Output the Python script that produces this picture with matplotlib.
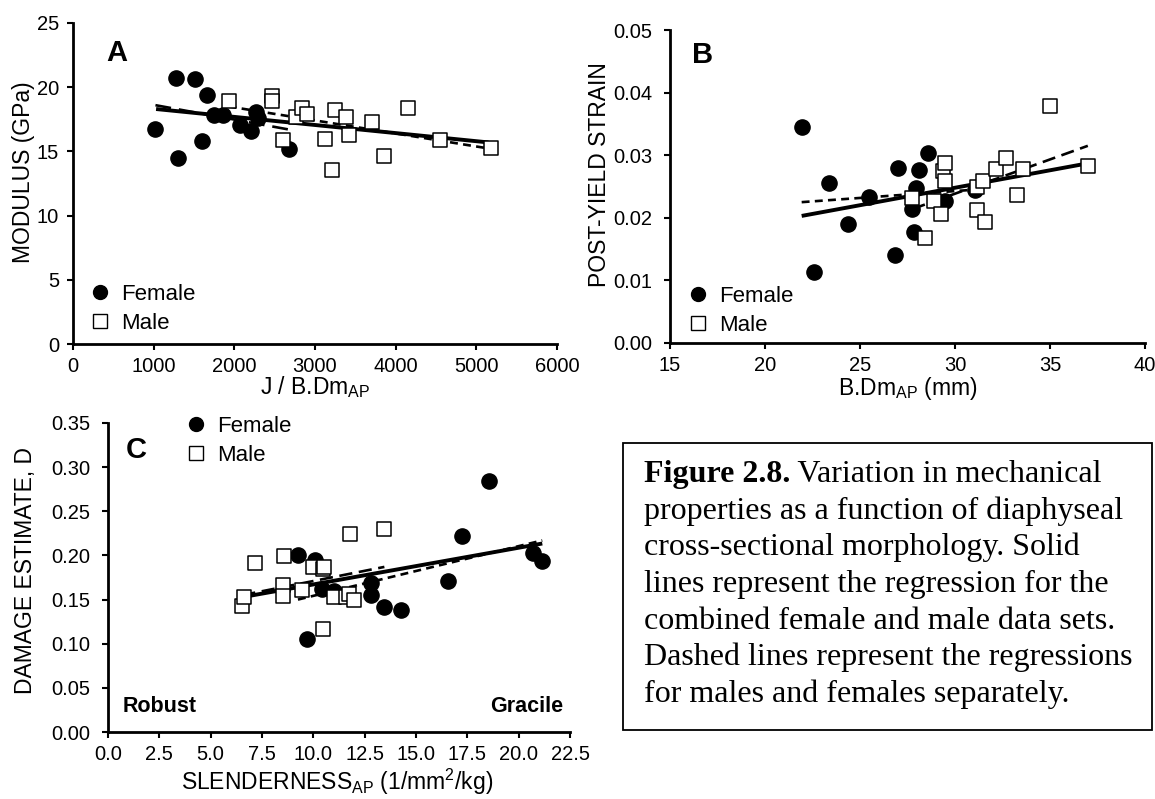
import matplotlib
matplotlib.use("Agg")
import matplotlib.pyplot as plt
from matplotlib.lines import Line2D
from matplotlib.patches import Rectangle
from matplotlib.ticker import FormatStrFormatter

plt.rcParams['font.family'] = ['Liberation Sans', 'DejaVu Sans']
plt.rcParams['mathtext.default'] = 'regular'

# ---- panel A: modulus vs J / B.Dm_AP
a_female_x = [1022, 1275, 1510, 1657, 1597, 1298, 1750, 1860, 2072, 2210, 2270, 2288, 2680]
a_female_y = [16.77, 20.74, 20.64, 19.42, 15.78, 14.49, 17.81, 17.86, 17.08, 16.56, 18.04, 17.6, 15.19]
a_male_x = [1929, 2463, 2463, 2601, 2762, 2840, 2901, 3122, 3209, 3250, 3384, 3416, 3702, 3854, 4148, 4553, 5180]
a_male_y = [18.9, 19.29, 18.95, 15.86, 17.68, 18.35, 17.91, 15.97, 13.55, 18.25, 17.68, 16.3, 17.32, 14.67, 18.35, 15.86, 15.29]
a_fit_all_x, a_fit_all_y = [1030, 5150], [18.3, 15.7]
a_fit_f_x, a_fit_f_y = [1022, 2680], [18.6, 16.7]
a_fit_m_x, a_fit_m_y = [1929, 5180], [18.5, 15.2]

# ---- panel B: post-yield strain vs B.Dm_AP
b_female_x = [21.93, 22.58, 23.35, 24.36, 25.49, 26.83, 26.99, 27.76, 27.86, 27.96, 28.09, 28.56, 29.45, 31.06]
b_female_y = [0.0345, 0.0113, 0.0255, 0.0190, 0.0233, 0.0140, 0.0279, 0.0214, 0.0177, 0.0247, 0.0277, 0.0303, 0.0227, 0.0244]
b_male_x = [27.76, 28.44, 28.87, 29.26, 29.37, 29.45, 29.45, 31.16, 31.16, 31.49, 31.57, 32.17, 32.68, 33.28, 33.59, 34.99, 36.99]
b_male_y = [0.0232, 0.0167, 0.0227, 0.0206, 0.0274, 0.0288, 0.0258, 0.0213, 0.0250, 0.0258, 0.0194, 0.0278, 0.0295, 0.0237, 0.0278, 0.0378, 0.0282]
b_fit_all_x, b_fit_all_y = [21.93, 36.99], [0.0203, 0.0287]
b_fit_f_x, b_fit_f_y = [21.93, 31.06], [0.0225, 0.0245]
b_fit_m_x, b_fit_m_y = [27.76, 36.99], [0.0214, 0.0315]

# ---- panel C: damage estimate vs slenderness
c_female_x = [9.25, 10.08, 9.67, 10.43, 11.02, 12.83, 12.83, 13.43, 14.28, 16.54, 17.26, 18.56, 20.69, 21.15]
c_female_y = [0.2005, 0.1949, 0.1048, 0.162, 0.1593, 0.1688, 0.1555, 0.1411, 0.1381, 0.171, 0.2225, 0.2845, 0.2028, 0.1937]
c_male_x = [6.54, 6.63, 7.14, 8.53, 8.53, 8.59, 9.45, 9.99, 10.45, 10.52, 10.45, 11.02, 11.57, 11.75, 11.96, 11.80, 13.46]
c_male_y = [0.1423, 0.1525, 0.1918, 0.1665, 0.1544, 0.199, 0.1612, 0.1865, 0.1846, 0.1873, 0.1162, 0.1532, 0.1525, 0.1563, 0.1498, 0.2244, 0.2297]
c_fit_all_x, c_fit_all_y = [6.6, 21.15], [0.153, 0.2135]
c_fit_f_x, c_fit_f_y = [9.25, 21.15], [0.150, 0.217]
c_fit_m_x, c_fit_m_y = [6.54, 13.46], [0.155, 0.187]

caption_lines = [
    "properties as a function of diaphyseal",
    "cross-sectional morphology. Solid",
    "lines represent the regression for the",
    "combined female and male data sets.",
    "Dashed lines represent the regressions",
    "for males and females separately.",
]

W, H = 1155, 799
fig = plt.figure(figsize=(W / 100, H / 100), dpi=100)

TICK_FS = 14.5
LABEL_FS = 16.5
LEG_FS = 16


def axes_px(left, right, top, bottom):
    return fig.add_axes([left / W, 1 - bottom / H, (right - left) / W, (bottom - top) / H])


def style(ax, ypad=8):
    for s in ['top', 'right']:
        ax.spines[s].set_visible(False)
    for s in ['left', 'bottom']:
        ax.spines[s].set_linewidth(2)
    ax.tick_params(direction='out', length=4.5, width=1.5, labelsize=TICK_FS)
    ax.tick_params(axis='x', pad=5)
    ax.tick_params(axis='y', pad=ypad)


def draw(ax, fx, fy, mx, my, fit_all, fit_f, fit_m, dash_f, dash_m):
    ax.plot(fit_all[0], fit_all[1], color='black', lw=2.8, solid_capstyle='butt', zorder=3)
    ax.plot(fit_f[0], fit_f[1], color='black', lw=1.9, dashes=dash_f, zorder=3)
    ax.plot(fit_m[0], fit_m[1], color='black', lw=1.9, dashes=dash_m, zorder=3)
    ax.scatter(fx, fy, s=120, marker='o', color='black', zorder=4)
    ax.scatter(mx, my, s=115, marker='s', facecolor='white', edgecolor='black', linewidth=1.1, zorder=5)


def legend(ax, x, y):
    h = [Line2D([], [], ls='none', marker='o', ms=10, mfc='black', mec='black'),
         Line2D([], [], ls='none', marker='s', ms=9.5, mfc='white', mec='black', mew=1.0)]
    ax.legend(h, ['Female', 'Male'], loc='upper left', bbox_to_anchor=(x, y), frameon=False,
              fontsize=LEG_FS, handlelength=0.9, handletextpad=0.5, borderpad=0,
              borderaxespad=0, labelspacing=0.36)


# A
axA = axes_px(73, 557, 23, 344)
draw(axA, a_female_x, a_female_y, a_male_x, a_male_y,
     (a_fit_all_x, a_fit_all_y), (a_fit_f_x, a_fit_f_y), (a_fit_m_x, a_fit_m_y), (6, 3), (3, 2))
axA.set_xlim(0, 6000)
axA.set_ylim(0, 25)
axA.set_xticks(range(0, 6001, 1000))
axA.set_yticks(range(0, 26, 5))
style(axA, ypad=5.5)
axA.set_xlabel('J / B.Dm$_{AP}$', fontsize=LABEL_FS)
axA.set_ylabel('MODULUS (GPa)', fontsize=LABEL_FS)
axA.xaxis.set_label_coords(0.5, -0.093)
axA.yaxis.set_label_coords(-0.078, 0.536)
axA.text(0.091, 0.907, 'A', transform=axA.transAxes, fontsize=21, fontweight='bold', ha='center', va='center')
legend(axA, 0.035, 0.187)

# B
axB = axes_px(670, 1145, 30, 343)
draw(axB, b_female_x, b_female_y, b_male_x, b_male_y,
     (b_fit_all_x, b_fit_all_y), (b_fit_f_x, b_fit_f_y), (b_fit_m_x, b_fit_m_y), (3, 2), (5, 2.5))
axB.set_xlim(15, 40)
axB.set_ylim(0, 0.05)
axB.set_xticks(range(15, 41, 5))
axB.set_yticks([0, 0.01, 0.02, 0.03, 0.04, 0.05])
axB.yaxis.set_major_formatter(FormatStrFormatter('%.2f'))
style(axB)
axB.set_xlabel('B.Dm$_{AP}$ (mm)', fontsize=LABEL_FS)
axB.set_ylabel('POST-YIELD STRAIN', fontsize=LABEL_FS)
axB.xaxis.set_label_coords(0.5, -0.102)
axB.yaxis.set_label_coords(-0.124, 0.537)
axB.text(0.069, 0.92, 'B', transform=axB.transAxes, fontsize=21, fontweight='bold', ha='center', va='center')
legend(axB, 0.038, 0.182)

# C
axC = axes_px(108, 570, 423, 732)
draw(axC, c_female_x, c_female_y, c_male_x, c_male_y,
     (c_fit_all_x, c_fit_all_y), (c_fit_f_x, c_fit_f_y), (c_fit_m_x, c_fit_m_y), (3, 2), (5, 2.5))
axC.set_xlim(0, 22.5)
axC.set_ylim(0, 0.35)
axC.set_xticks([i * 2.5 for i in range(10)])
axC.set_yticks([i * 0.05 for i in range(8)])
axC.xaxis.set_major_formatter(FormatStrFormatter('%.1f'))
axC.yaxis.set_major_formatter(FormatStrFormatter('%.2f'))
style(axC)
axC.set_xlabel('SLENDERNESS$_{AP}$ (1/mm$^{2}$/kg)', fontsize=LABEL_FS, va='bottom')
axC.set_ylabel('DAMAGE ESTIMATE, D', fontsize=LABEL_FS)
axC.xaxis.set_label_coords(0.496, -0.21)
axC.yaxis.set_label_coords(-0.154, 0.523)
axC.text(0.061, 0.913, 'C', transform=axC.transAxes, fontsize=21, fontweight='bold', ha='center', va='center')
axC.text(0.032, 0.084, 'Robust', transform=axC.transAxes, fontsize=15.5, fontweight='bold', ha='left', va='center')
axC.text(0.985, 0.084, 'Gracile', transform=axC.transAxes, fontsize=15.5, fontweight='bold', ha='right', va='center')
legend(axC, 0.169, 1.023)

# caption box
fig.patches.append(Rectangle((623 / W, 1 - 730 / H), (1152 - 623) / W, (730 - 443) / H,
                             transform=fig.transFigure, fill=False, edgecolor='black', lw=1.3))
serif = ['Liberation Serif', 'DejaVu Serif']
CAP_FS = 23
t0 = fig.text(644 / W, 1 - 482 / H, 'Figure 2.8.', family=serif, fontsize=CAP_FS, fontweight='bold', va='baseline')
axC.annotate(' Variation in mechanical', xy=(1, 0), xycoords=t0, va='bottom', ha='left',
             family=serif, fontsize=CAP_FS, annotation_clip=False)
for i, line in enumerate(caption_lines):
    fig.text(644 / W, 1 - (482 + 36.7 * (i + 1)) / H, line, family=serif, fontsize=CAP_FS, va='baseline')

fig.savefig('out.png', dpi=100)
